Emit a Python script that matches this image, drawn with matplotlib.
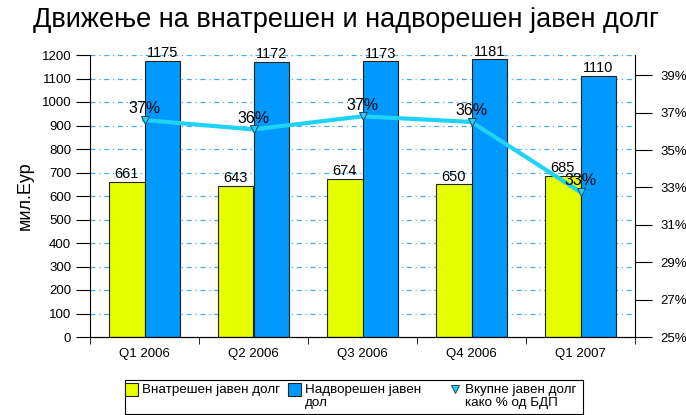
import matplotlib
matplotlib.use("Agg")
import matplotlib.pyplot as plt
import numpy as np
from matplotlib.lines import Line2D
from matplotlib.patches import Rectangle

plt.rcParams['font.family'] = ['Liberation Sans', 'DejaVu Sans']

categories = ["Q1 2006", "Q2 2006", "Q3 2006", "Q4 2006", "Q1 2007"]
domestic = [661, 643, 674, 650, 685]
external = [1175, 1172, 1173, 1181, 1110]
pct_gdp = [36.6, 36.1, 36.8, 36.5, 32.75]
pct_labels = ["37%", "36%", "37%", "36%", "33%"]
legend_labels = ["Внатрешен јавен долг", "Надворешен јавен\nдол", "Вкупне јавен долг\nкако % од БДП"]

YELLOW = '#E5FF00'
BLUE = '#0099FF'
CYAN = '#1ED3F5'

W, H = 686, 415
fig = plt.figure(figsize=(W/100, H/100), dpi=100)
ax = fig.add_axes([90/W, 1-337/H, 545/W, 282/H])
x = np.arange(len(categories))
w = 0.33

ax.set_xlim(-0.5, len(categories)-0.5)
ax.set_ylim(0, 1200)
ax.set_yticks(range(0, 1201, 100))
for v in range(100, 1201, 100):
    ax.axhline(v, color='#44AAF0', lw=0.9, ls=(0, (4, 3, 1, 3)), zorder=0)

ax.bar(x - w/2, domestic, w, color=YELLOW, edgecolor='#222222', lw=0.8, zorder=2)
ax.bar(x + w/2, external, w, color=BLUE, edgecolor='#222222', lw=0.8, zorder=2)
for xi, v in zip(x, domestic):
    ax.text(xi - w/2, v + 3, str(v), ha='center', va='bottom', fontsize=10.5, zorder=5)
for xi, v in zip(x, external):
    ax.text(xi + w/2, v + 3, str(v), ha='center', va='bottom', fontsize=10.5, zorder=5)

ax.set_xticks(x)
ax.set_xticklabels(categories, fontsize=9.5)
ax.set_xticks(np.arange(-0.5, len(categories), 1), minor=True)
ax.tick_params(axis='x', which='major', length=0, pad=8)
ax.tick_params(axis='x', which='minor', length=5, direction='out')
ax.tick_params(axis='y', labelsize=9.5, length=10, direction='out')
ax.set_ylabel("мил.Еур", fontsize=13, labelpad=6)
ax.spines['top'].set_visible(False)
ax.spines['right'].set_visible(False)

ax2 = ax.twinx()
ax2.set_ylim(25, 25 + 282/18.7)
ax2.set_yticks(range(25, 40, 2))
ax2.set_yticklabels([f"{t}%" for t in range(25, 40, 2)])
ax2.tick_params(axis='y', labelsize=9.5, length=12, direction='out', pad=6)
ax2.spines['top'].set_visible(False)
ax2.spines['left'].set_visible(False)
ax2.plot(x, pct_gdp, color=CYAN, lw=3, zorder=3)
ax2.plot(x, pct_gdp, ls='none', marker='v', ms=6, mfc=CYAN, mec='#224466', mew=0.7, zorder=4)
for xi, v, l in zip(x, pct_gdp, pct_labels):
    ax2.text(xi, v + 0.2, l, ha='center', va='bottom', fontsize=11.5, zorder=5)

fig.text(0.505, 1-20/H, "Движење на внатрешен и надворешен јавен долг",
         ha='center', va='center', fontsize=19.5)

# legend drawn manually (pixel layout converted to figure fractions)
def fx(px): return px / W
def fy(py): return 1 - py / H

fig.add_artist(Rectangle((fx(125), fy(413.5)), fx(583) - fx(125), fy(380) - fy(413.5),
                         transform=fig.transFigure, fill=False, edgecolor='black', lw=0.8))
fig.add_artist(Rectangle((fx(125), fy(396)), 13/W, 13/H, transform=fig.transFigure,
                         facecolor=YELLOW, edgecolor='#222222', lw=0.8))
fig.add_artist(Rectangle((fx(288), fy(396)), 13/W, 13/H, transform=fig.transFigure,
                         facecolor=BLUE, edgecolor='#222222', lw=0.8))
fig.add_artist(Line2D([fx(455)], [fy(389)], transform=fig.transFigure, ls='none',
                      marker='v', ms=6, mfc=CYAN, mec='#224466', mew=0.7))
for px, lab in zip([142, 305, 465], legend_labels):
    fig.text(fx(px), fy(384), lab, ha='left', va='top', fontsize=9.6, linespacing=1.12)

fig.savefig("out.png", dpi=100)
